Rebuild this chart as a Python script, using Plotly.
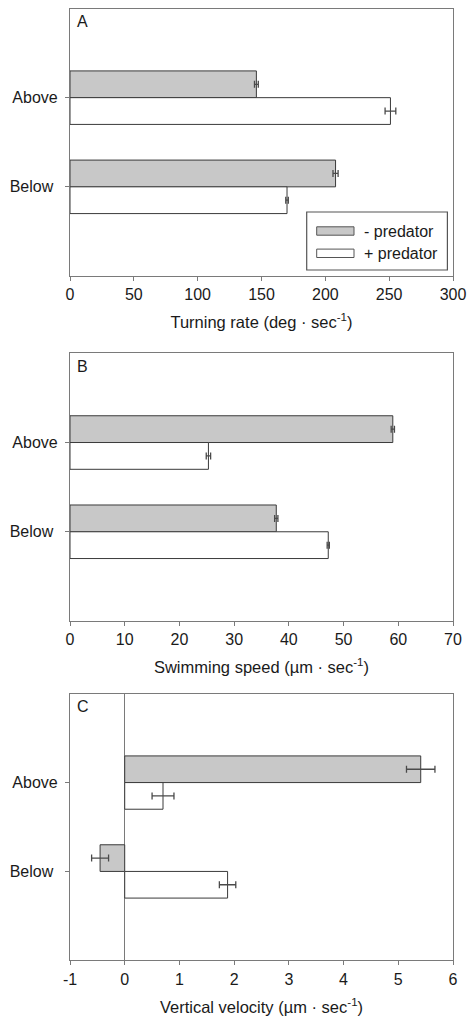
import plotly.graph_objects as go

categories = ["Above", "Below"]
tick_text = ["Above", "Below\u00a0"]
series_names = ["- predator", "+ predator"]

# Panel A: Turning rate
turn_minus = [146, 208]
turn_minus_err = [1.5, 2.0]
turn_plus = [251, 170]
turn_plus_err = [4.2, 1.0]

# Panel B: Swimming speed
speed_minus = [59.0, 37.7]
speed_minus_err = [0.3, 0.3]
speed_plus = [25.3, 47.2]
speed_plus_err = [0.4, 0.2]

# Panel C: Vertical velocity
vel_minus = [5.41, -0.45]
vel_minus_err = [0.26, 0.155]
vel_plus = [0.70, 1.88]
vel_plus_err = [0.20, 0.15]

panel_labels = ["A", "B", "C"]
x_titles = ["Turning rate (deg \u00b7 sec<sup>-1</sup>)",
            "Swimming speed (\u00b5m \u00b7 sec<sup>-1</sup>)",
            "Vertical velocity (\u00b5m \u00b7 sec<sup>-1</sup>)"]
x_tickvals = [[0, 50, 100, 150, 200, 250, 300],
              [0, 10, 20, 30, 40, 50, 60, 70],
              [-1, 0, 1, 2, 3, 4, 5, 6]]
x_ticktext = [[str(v) for v in tv] for tv in x_tickvals]
x_ranges = [[0, 300], [0, 70], [-1, 6]]

FONT = "Liberation Sans, Arial, sans-serif"
GRAY_FILL = "#c8c8c8"
EDGE = "#3a3a3a"
AXIS = "#7a7a7a"
ERR = "#4a4a4a"
TXT = "#1a1a1a"

W = 468.0
H = 1021.0
fig = go.Figure()

panels = [
    (turn_minus, turn_minus_err, turn_plus, turn_plus_err),
    (speed_minus, speed_minus_err, speed_plus, speed_plus_err),
    (vel_minus, vel_minus_err, vel_plus, vel_plus_err),
]
# pixel top/bottom of each plotting area
px_bounds = [(8.5, 276.0), (353.3, 621.0), (693.7, 960.3)]
fills = [GRAY_FILL, "white"]

for i, (m, me, p, pe) in enumerate(panels):
    xa = "x" if i == 0 else f"x{i+1}"
    ya = "y" if i == 0 else f"y{i+1}"
    for vals, errs, fill, name in [(m, me, fills[0], series_names[0]),
                                   (p, pe, fills[1], series_names[1])]:
        fig.add_trace(go.Bar(
            y=categories, x=vals, orientation="h", name=name,
            marker=dict(color=fill, line=dict(color=EDGE, width=1)),
            error_x=dict(type="data", array=errs, color=ERR, thickness=1.3, width=3.5),
            xaxis=xa, yaxis=ya, showlegend=False,
        ))

annotations = []
shapes = []

layout = dict(
    width=468, height=1021,
    margin=dict(l=70.3, r=14.7, t=0, b=0),
    paper_bgcolor="white", plot_bgcolor="white",
    barmode="group", bargap=0.4, bargroupgap=0,
    font=dict(family=FONT, size=16, color=TXT),
    showlegend=False,
)

for i in range(3):
    xk = "xaxis" if i == 0 else f"xaxis{i+1}"
    yk = "yaxis" if i == 0 else f"yaxis{i+1}"
    ya = "y" if i == 0 else f"y{i+1}"
    xa = "x" if i == 0 else f"x{i+1}"
    top, bot = px_bounds[i]
    layout[xk] = dict(
        domain=[0, 1], anchor=ya, range=x_ranges[i],
        tickvals=x_tickvals[i], ticktext=x_ticktext[i],
        showline=True, linecolor=AXIS, linewidth=1.2, mirror=True,
        ticks="outside", ticklen=4, tickcolor=AXIS, tickwidth=1,
        showgrid=False, zeroline=(i == 2), zerolinecolor=AXIS, zerolinewidth=1.2,
        tickfont=dict(size=16),
        title=dict(text=x_titles[i], font=dict(size=16.5), standoff=14),
    )
    layout[yk] = dict(
        domain=[1 - bot / H, 1 - top / H], anchor=xa,
        type="category", categoryorder="array", categoryarray=categories,
        range=[2, -1], tickvals=categories, ticktext=tick_text,
        showline=True, linecolor=AXIS, linewidth=1.2, mirror=True,
        ticks="outside", ticklen=4, tickcolor=AXIS, tickwidth=1,
        showgrid=False, zeroline=False, ticklabelstandoff=4,
        tickfont=dict(size=16),
    )
    annotations.append(dict(
        text=panel_labels[i], xref=f"{xa} domain", yref=f"{ya} domain",
        x=0.014, y=0.951, xanchor="left", yanchor="middle", showarrow=False,
        font=dict(family=FONT, size=16, color=TXT),
    ))

# Custom legend box (panel A), in paper pixel terms
def px(xp):
    return xp / W

def py(yp):
    return 1 - yp / H

shapes.append(dict(type="rect", xref="paper", yref="paper",
                   x0=px(307 - 70.3) * W / 383.0 * 0 + (307 - 70.3) / 383.0,
                   x1=(447.7 - 70.3) / 383.0, y0=py(270), y1=py(212),
                   line=dict(color="#555555", width=1.2), fillcolor="white", layer="above"))
legend_rows = [(231.0, 0), (253.3, 1)]
for yc, k in legend_rows:
    shapes.append(dict(type="rect", xref="paper", yref="paper",
                       x0=(317 - 70.3) / 383.0, x1=(354.3 - 70.3) / 383.0,
                       y0=py(yc + 4.2), y1=py(yc - 4.2),
                       line=dict(color="#555555", width=1), fillcolor=fills[k], layer="above"))
    annotations.append(dict(
        text=series_names[k], xref="paper", yref="paper",
        x=(362 - 70.3) / 383.0, y=py(yc), xanchor="left", yanchor="middle",
        showarrow=False, font=dict(family=FONT, size=16, color=TXT),
    ))

layout["annotations"] = annotations
layout["shapes"] = shapes

fig.update_layout(**layout)
fig.write_html("out.html")
